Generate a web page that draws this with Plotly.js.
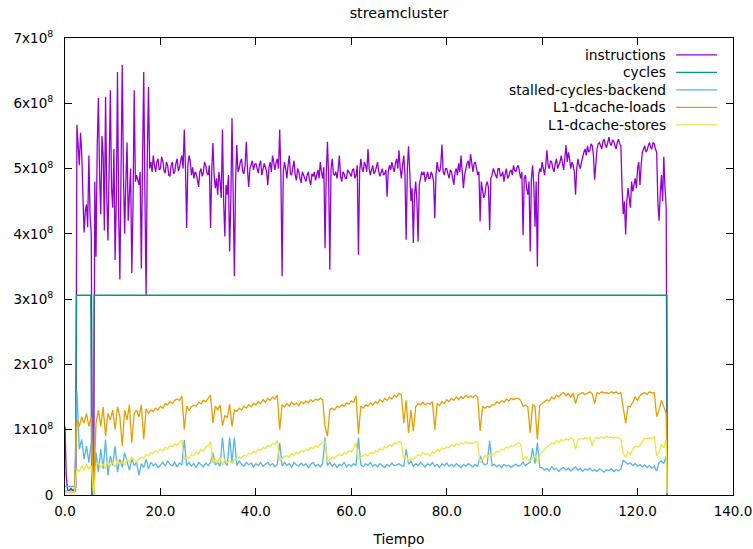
<!DOCTYPE html>
<html>
<head>
<meta charset="utf-8">
<script src="https://cdn.plot.ly/plotly-3.0.1.min.js"></script>
<style>html,body{margin:0;padding:0;background:#fff;}#chart{width:753px;height:549px;}</style>
</head>
<body>
<div id="chart"></div>
<script>
// ---- Data (values in units of 1e8 events); last sample of every series at 126.2 s ----
const tLast = 126.2;
const tStepInstr = 0.25;   // instructions read every 0.25 s
const tStep = 0.5;         // other counters read every 0.5 s

const instructions = [
1.05,0.3,0.1,0.05,0.08,0.1,0.08,0.06,0.1,0.12,5.67,5.3,5.05,5.55,5.25,4.6,4.02,4.35,4.45,4.1,
5.2,4.3,4.0,0.0,0.0,4.8,3.65,5.35,6.08,4.9,4.3,5.5,5.2,4.05,6.1,4.6,3.9,5.0,6.2,4.7,
4.4,5.3,3.6,4.5,6.48,4.3,3.3,5.0,6.59,4.9,4.0,4.8,5.4,4.2,4.6,5.0,3.4,4.4,6.2,4.8,
4.9,4.8,4.75,4.95,3.47,5.1,6.48,4.6,3.06,5.2,6.25,5.0,5.1,4.95,5.2,5.05,4.95,5.1,5.15,4.98,
5.0,5.18,5.12,4.97,4.93,5.1,5.05,4.9,4.88,5.05,5.1,4.92,4.95,5.08,5.15,4.96,5.02,5.12,5.2,5.0,
5.6,5.0,4.09,5.05,5.2,5.12,4.9,5.02,4.85,4.95,4.92,4.83,4.72,4.95,5.0,4.88,4.95,5.1,5.05,4.93,
4.9,5.05,4.09,4.95,5.39,4.9,4.7,4.85,4.6,4.95,4.8,4.55,5.6,4.5,3.96,4.75,4.6,4.9,3.73,4.5,
5.77,4.6,3.35,4.8,5.36,4.95,5.0,5.1,5.15,4.95,4.92,5.05,5.41,4.98,4.72,5.0,5.05,5.12,4.98,5.06,
5.08,4.98,4.93,5.06,5.12,4.9,4.97,5.08,5.02,4.95,4.75,5.02,5.1,4.95,5.2,5.08,4.98,5.1,5.15,5.0,
5.6,4.9,3.35,4.95,5.1,5.0,4.85,5.05,5.2,4.92,4.9,5.02,5.12,4.9,4.82,5.0,4.95,4.85,4.78,4.95,
4.9,4.85,4.8,4.9,4.95,4.82,4.75,4.92,4.88,4.95,4.82,4.9,4.98,4.85,5.1,4.95,4.85,5.02,3.78,4.9,
5.41,4.9,3.45,5.0,5.15,4.92,4.9,4.95,4.85,4.98,5.2,4.88,4.8,4.95,4.92,4.85,4.85,4.98,4.95,4.9,
4.88,4.98,5.0,4.85,4.9,5.05,3.68,4.95,5.15,5.0,4.95,5.1,5.05,4.95,5.3,5.0,4.9,4.98,5.05,4.92,
4.95,5.02,5.1,4.96,4.88,4.94,5.0,4.9,4.92,4.98,4.57,4.95,5.05,4.98,5.1,5.02,4.95,5.08,5.15,5.0,
5.28,5.0,4.85,5.05,5.2,4.9,3.91,5.0,5.34,4.95,4.5,4.7,3.86,4.6,4.8,4.5,3.88,4.75,4.85,4.95,
4.9,4.95,4.8,4.9,4.95,4.85,4.85,4.95,4.9,4.8,4.24,4.9,5.1,4.98,4.95,5.05,5.37,4.95,4.9,5.0,
5.0,4.92,4.85,4.98,4.95,4.85,4.75,4.95,5.0,4.9,5.08,4.95,5.2,4.95,4.7,4.9,5.0,5.08,5.12,5.0,
5.22,5.05,4.95,5.08,5.1,5.0,4.9,4.95,4.19,4.8,4.7,4.55,4.6,4.75,4.8,4.7,4.06,4.85,4.9,5.0,
4.95,4.9,4.85,5.0,5.0,4.88,4.9,4.95,4.8,4.92,5.0,4.85,4.88,4.95,4.98,4.9,5.05,4.97,4.95,5.02,
5.05,4.95,4.85,4.95,3.98,4.85,4.9,4.7,4.6,4.8,3.73,4.85,5.05,4.75,4.11,4.8,3.5,4.9,5.0,4.95,
5.1,5.0,4.9,5.05,5.28,5.05,5.0,5.12,5.1,5.0,4.95,5.08,5.15,5.0,5.05,5.1,5.2,5.1,4.98,5.15,
5.36,5.1,5.25,5.15,5.0,5.1,5.05,4.95,4.6,5.0,5.15,5.05,5.0,5.1,5.2,5.25,5.3,5.2,5.35,5.25,
5.28,5.38,5.35,5.2,4.83,5.15,5.3,5.38,5.4,5.35,5.3,5.42,5.45,5.36,5.32,5.4,5.48,5.38,5.35,5.44,
5.42,5.35,5.3,5.4,5.45,5.38,5.35,4.7,4.3,4.5,3.99,4.5,4.7,4.55,4.4,4.8,4.65,4.75,4.85,4.7,
5.0,5.1,4.75,5.05,5.25,5.3,5.35,5.25,5.28,5.35,5.4,5.32,5.3,5.4,5.38,5.3,5.25,4.5,4.2,4.6,
4.9,4.5,5.18,4.7,4.4,0.0
];

// cycles is flat: listed at its change points only
const cyclesTime = [0, 2.2, 2.4, 5.4, 5.6, 5.9, 6.1, 126.15, 126.2];
const cycles     = [0.06, 0.06, 3.06, 3.06, 0.0, 0.0, 3.06, 3.06, 0.0];

const stalledBackend = [
0.13,0.13,0.13,0.13,0.13,1.59,0.7,0.85,0.55,0.75,
0.5,0.8,0.0,0.65,0.35,0.7,0.4,0.85,0.3,0.6,
0.45,0.75,0.35,0.55,0.42,0.65,0.5,0.38,0.55,0.45,
0.5,0.3,0.48,0.42,0.55,0.4,0.5,0.45,0.48,0.42,
0.46,0.5,0.44,0.52,0.47,0.45,0.5,0.43,0.49,0.46,
0.84,0.45,0.5,0.44,0.48,0.42,0.5,0.46,0.43,0.49,
0.45,0.5,0.65,0.46,0.5,0.44,0.88,0.5,0.45,0.88,
0.5,0.88,0.45,0.52,0.47,0.44,0.5,0.46,0.49,0.43,
0.48,0.45,0.5,0.44,0.47,0.5,0.45,0.48,0.43,0.47,
0.8,0.44,0.5,0.45,0.48,0.43,0.5,0.46,0.44,0.49,
0.45,0.48,0.42,0.47,0.5,0.44,0.47,0.43,0.48,0.88,
0.45,0.5,0.44,0.48,0.42,0.47,0.45,0.5,0.43,0.47,
0.44,0.48,0.45,0.88,0.46,0.43,0.48,0.45,0.5,0.44,
0.47,0.43,0.48,0.45,0.42,0.47,0.44,0.49,0.45,0.46,
0.48,0.45,0.44,0.7,0.47,0.52,0.44,0.48,0.45,0.5,
0.46,0.43,0.48,0.45,0.5,0.44,0.47,0.42,0.48,0.45,
0.49,0.44,0.47,0.43,0.48,0.45,0.42,0.47,0.44,0.48,
0.45,0.43,0.47,0.44,0.6,0.5,0.46,0.48,0.83,0.45,
0.47,0.43,0.46,0.42,0.47,0.44,0.46,0.42,0.45,0.47,
0.44,0.46,0.5,0.45,0.48,0.5,0.72,0.48,0.8,0.42,
0.42,0.38,0.41,0.37,0.43,0.39,0.41,0.36,0.4,0.42,
0.38,0.41,0.37,0.4,0.43,0.38,0.41,0.36,0.4,0.38,
0.41,0.37,0.39,0.36,0.4,0.38,0.35,0.39,0.37,0.4,
0.36,0.39,0.37,0.4,0.53,0.5,0.47,0.49,0.45,0.48,
0.44,0.47,0.43,0.46,0.42,0.45,0.41,0.44,0.37,0.5,
0.52,0.48,0.6,0.02
];

const l1Loads = [
0.05,0.05,0.05,0.05,0.05,1.15,1.05,1.2,1.1,1.25,
1.05,1.2,0.0,1.1,1.3,1.05,1.35,0.9,1.25,1.15,
1.3,1.0,1.35,1.2,0.75,1.3,1.15,1.38,0.8,1.25,
1.3,1.2,1.38,0.85,1.32,1.25,1.3,1.28,1.33,1.3,
1.36,1.33,1.4,1.38,1.43,1.4,1.45,1.47,1.45,1.51,
1.0,1.36,1.3,1.35,1.38,1.36,1.42,1.4,1.45,1.43,
1.48,1.53,1.1,1.36,1.3,1.38,1.06,1.22,1.18,1.39,
1.05,1.3,1.28,1.33,1.3,1.36,1.33,1.38,1.35,1.4,
1.38,1.43,1.4,1.46,1.42,1.48,1.45,1.5,1.47,1.53,
1.0,1.38,1.35,1.4,1.36,1.42,1.38,1.41,1.37,1.43,
1.4,1.44,1.41,1.46,1.43,1.47,1.45,1.48,1.46,1.05,
0.9,1.3,1.33,1.3,1.36,1.34,1.38,1.36,1.41,1.39,
1.44,1.42,1.52,0.93,1.36,1.33,1.38,1.36,1.41,1.38,
1.43,1.4,1.46,1.42,1.48,1.45,1.5,1.47,1.53,1.5,
1.56,1.53,1.1,1.45,0.95,1.3,0.98,1.35,1.4,1.38,
1.42,1.38,1.41,1.39,1.43,1.0,1.4,1.37,1.43,1.4,
1.46,1.43,1.48,1.45,1.5,1.46,1.51,1.48,1.53,1.49,
1.52,1.49,1.53,1.5,0.98,1.35,1.33,1.36,1.34,1.38,
1.38,1.43,1.4,1.45,1.42,1.47,1.44,1.48,1.46,1.48,
1.48,1.45,1.36,1.38,1.35,0.95,1.38,1.36,0.85,1.37,
1.4,1.43,1.46,1.44,1.5,1.47,1.53,1.5,1.55,1.57,
1.52,1.55,1.5,1.56,1.4,1.53,1.55,1.57,1.54,1.56,
1.58,1.55,1.4,1.57,1.55,1.58,1.56,1.57,1.55,1.58,
1.56,1.58,1.55,1.57,1.3,1.1,1.36,1.35,1.42,1.5,
1.45,1.52,1.55,1.57,1.54,1.58,1.56,1.57,1.2,1.3,
1.45,1.35,1.25,0.05
];

const l1Stores = [
0.05,0.05,0.05,0.05,0.05,0.4,0.35,0.45,0.38,0.48,
0.4,0.45,0.0,0.45,0.5,0.42,0.48,0.4,0.52,0.45,
0.5,0.43,0.55,0.47,0.52,0.45,0.55,0.5,0.58,0.53,
0.5,0.55,0.58,0.56,0.62,0.6,0.65,0.63,0.68,0.66,
0.7,0.68,0.73,0.71,0.75,0.74,0.78,0.76,0.81,0.84,
0.54,0.58,0.56,0.62,0.6,0.66,0.63,0.7,0.67,0.73,
0.75,0.82,0.49,0.55,0.5,0.58,0.45,0.55,0.5,0.52,
0.48,0.55,0.54,0.58,0.56,0.61,0.6,0.64,0.62,0.67,
0.65,0.7,0.68,0.73,0.71,0.76,0.74,0.79,0.77,0.84,
0.52,0.56,0.58,0.6,0.58,0.63,0.61,0.65,0.63,0.68,
0.66,0.7,0.68,0.73,0.71,0.75,0.73,0.78,0.8,0.82,
0.51,0.55,0.58,0.56,0.6,0.62,0.6,0.65,0.63,0.68,
0.66,0.72,0.8,0.54,0.58,0.6,0.62,0.6,0.65,0.63,
0.68,0.66,0.71,0.69,0.74,0.72,0.77,0.75,0.8,0.78,
0.82,0.8,0.55,0.6,0.52,0.56,0.54,0.58,0.62,0.6,
0.65,0.62,0.64,0.6,0.66,0.64,0.7,0.67,0.72,0.7,
0.74,0.72,0.77,0.74,0.79,0.76,0.8,0.78,0.81,0.79,
0.8,0.79,0.82,0.8,0.49,0.55,0.6,0.58,0.63,0.6,
0.64,0.67,0.66,0.7,0.69,0.73,0.72,0.76,0.75,0.78,
0.8,0.78,0.54,0.58,0.55,0.52,0.57,0.6,0.5,0.62,
0.66,0.7,0.73,0.76,0.8,0.78,0.83,0.8,0.85,0.83,
0.86,0.84,0.87,0.85,0.7,0.84,0.87,0.85,0.88,0.86,
0.88,0.75,0.86,0.88,0.87,0.89,0.87,0.9,0.88,0.89,
0.87,0.89,0.88,0.86,0.64,0.58,0.66,0.62,0.7,0.75,
0.73,0.76,0.82,0.87,0.86,0.88,0.87,0.89,0.6,0.65,
0.78,0.72,0.85,0.03
];

const seriesNames  = ['instructions', 'cycles', 'stalled-cycles-backend', 'L1-dcache-loads', 'L1-dcache-stores'];
const seriesColors = ['#9400d3', '#009e73', '#56b4e9', '#e69f00', '#f0e442'];

const xTickVals = [0, 20, 40, 60, 80, 100, 120, 140];
const xTickText = ['0.0', '20.0', '40.0', '60.0', '80.0', '100.0', '120.0', '140.0'];
const yTickVals = [0, 1, 2, 3, 4, 5, 6, 7];
const yTickText = ['0', '1x10<sup>8</sup>', '2x10<sup>8</sup>', '3x10<sup>8</sup>', '4x10<sup>8</sup>', '5x10<sup>8</sup>', '6x10<sup>8</sup>', '7x10<sup>8</sup>'];

// ---- Sample times ----
function sampleTimes(n, step) {
  const out = [];
  for (let i = 0; i < n - 1; i++) out.push(i * step);
  out.push(tLast);
  return out;
}
const tInstr = sampleTimes(instructions.length, tStepInstr);
const t = sampleTimes(l1Loads.length, tStep);

const SCALE = 1e8;
const toRaw = arr => arr.map(v => v * SCALE);

const dataSets = [
  {x: tInstr, y: instructions},
  {x: cyclesTime, y: cycles},
  {x: t, y: stalledBackend},
  {x: t, y: l1Loads},
  {x: t, y: l1Stores}
];

const traces = dataSets.map((d, i) => ({
  type: 'scatter',
  mode: 'lines',
  name: seriesNames[i],
  x: d.x,
  y: toRaw(d.y),
  line: {color: seriesColors[i], width: 1.3},
  hoverinfo: 'x+y+name'
}));

const FONT = 'DejaVu Sans, sans-serif';

// gnuplot-style legend: right-aligned text followed by a line sample
const legendTop = 0.963, legendStep = 0.0383;
const annotations = seriesNames.map((n, i) => ({
  xref: 'paper', yref: 'paper',
  x: 0.903, y: legendTop - i * legendStep,
  xanchor: 'right', yanchor: 'middle',
  text: n, showarrow: false,
  font: {family: FONT, size: 13.8, color: '#000'}
}));
const shapes = seriesNames.map((n, i) => ({
  type: 'line', xref: 'paper', yref: 'paper',
  x0: 0.915, x1: 0.976,
  y0: legendTop - i * legendStep, y1: legendTop - i * legendStep,
  line: {color: seriesColors[i], width: 1.4}
}));

const axisCommon = {
  showline: true, linecolor: '#000', linewidth: 1,
  mirror: 'ticks', ticks: 'inside', ticklen: 7, tickwidth: 1, tickcolor: '#000',
  showgrid: false, zeroline: false,
  tickfont: {family: FONT, size: 13.5, color: '#000'}
};

const layout = {
  width: 753, height: 549,
  margin: {l: 65, r: 20, t: 38, b: 54, pad: 0},
  paper_bgcolor: '#fff', plot_bgcolor: '#fff',
  showlegend: false,
  font: {family: FONT, size: 13.5, color: '#000'},
  title: {
    text: 'streamcluster', x: 0.5, xref: 'paper', xanchor: 'center',
    y: 1 - 13 / 549, yref: 'container', yanchor: 'middle',
    font: {family: FONT, size: 14.3, color: '#000'}
  },
  xaxis: Object.assign({}, axisCommon, {
    range: [0, 140], tickmode: 'array', tickvals: xTickVals, ticktext: xTickText,
    ticklabelstandoff: 4,
    title: {text: 'Tiempo', standoff: 16, font: {family: FONT, size: 13.8, color: '#000'}},
    automargin: false
  }),
  yaxis: Object.assign({}, axisCommon, {
    range: [0, 7 * SCALE], tickmode: 'array',
    tickvals: yTickVals.map(v => v * SCALE), ticktext: yTickText,
    ticklabelstandoff: 8,
    automargin: false
  }),
  annotations: annotations,
  shapes: shapes
};

Plotly.newPlot('chart', traces, layout, {displayModeBar: false, staticPlot: true});
</script>
</body>
</html>
